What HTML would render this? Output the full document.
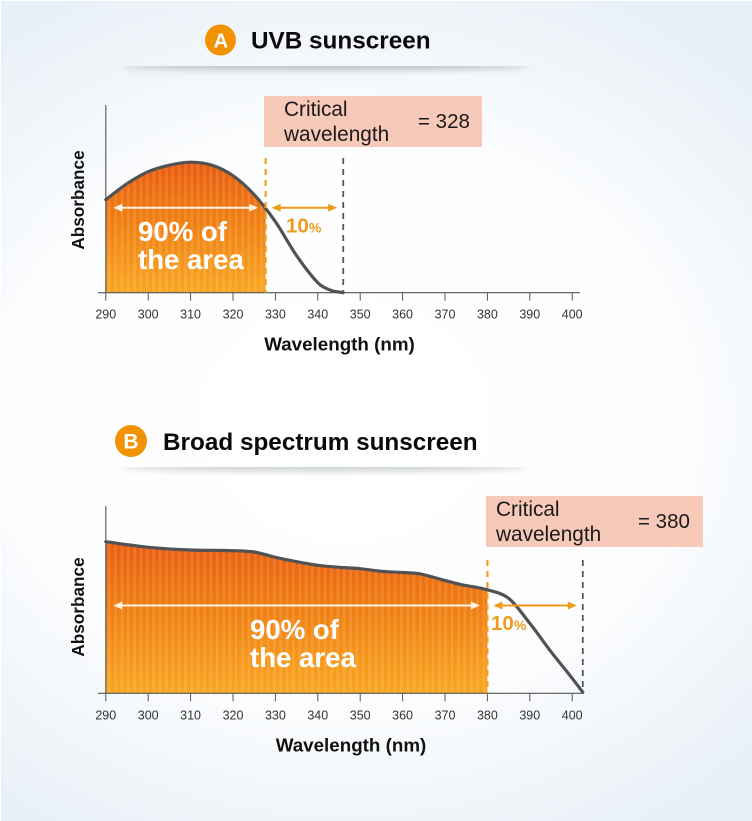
<!DOCTYPE html>
<html lang="en">
<head>
<meta charset="utf-8">
<title>Critical wavelength charts</title>
<style>
html,body{margin:0;padding:0;width:752px;height:821px;overflow:hidden;background:#fff}
svg{display:block;font-family:"Liberation Sans",sans-serif}
</style>
</head>
<body>
<svg id="fig" width="752" height="821" viewBox="0 0 752 821" xmlns="http://www.w3.org/2000/svg">
<defs>
<radialGradient id="bg" gradientUnits="userSpaceOnUse" cx="0" cy="0" r="1" gradientTransform="translate(345 420) scale(570 480)">
<stop offset="0" stop-color="#ffffff"/><stop offset="0.55" stop-color="#fdfeff"/><stop offset="0.8" stop-color="#f2f6fa"/><stop offset="1" stop-color="#e8f0f7"/>
</radialGradient>
<linearGradient id="fillA" gradientUnits="userSpaceOnUse" x1="0" y1="165" x2="0" y2="293">
<stop offset="0" stop-color="#e95d10"/><stop offset="0.45" stop-color="#f07f12"/><stop offset="1" stop-color="#f9a722"/>
</linearGradient>
<linearGradient id="fillB" gradientUnits="userSpaceOnUse" x1="0" y1="542" x2="0" y2="693">
<stop offset="0" stop-color="#e95d10"/><stop offset="0.45" stop-color="#f07f12"/><stop offset="1" stop-color="#f9a722"/>
</linearGradient>
<pattern id="stripes" patternUnits="userSpaceOnUse" width="6.35" height="10">
<rect x="0" y="0" width="2.6" height="10" fill="#ffffff" fill-opacity="0.12"/>
</pattern>
<filter id="soft" x="-20%" y="-300%" width="140%" height="700%"><feGaussianBlur stdDeviation="3.5"/></filter>
<clipPath id="shadowClipA"><rect x="80" y="66" width="500" height="20"/></clipPath>
<clipPath id="shadowClipB"><rect x="80" y="467" width="500" height="20"/></clipPath>
</defs>
<rect width="752" height="821" fill="url(#bg)"/>
<path d="M0.500 821V0.500H752" fill="none" stroke="#ffffff" stroke-width="1"/>

<g clip-path="url(#shadowClipA)">
<ellipse cx="325" cy="66" rx="205" ry="4" fill="#8f979e" fill-opacity="0.62" filter="url(#soft)"/>
</g>
<circle cx="220.500" cy="40" r="15.500" fill="#f39200"/>
<text x="220.800" y="47.500" font-size="20" font-weight="700" fill="#fff" text-anchor="middle">A</text>
<text x="251" y="48.500" font-size="24.300" font-weight="700" fill="#0a0a0a">UVB sunscreen</text>

<g clip-path="url(#shadowClipB)">
<ellipse cx="325" cy="467" rx="205" ry="4" fill="#8f979e" fill-opacity="0.5" filter="url(#soft)"/>
</g>
<circle cx="131" cy="441" r="16" fill="#f39200"/>
<text x="131" y="448.500" font-size="21" font-weight="700" fill="#fff" text-anchor="middle">B</text>
<text x="163" y="450" font-size="24.300" font-weight="700" fill="#0a0a0a">Broad spectrum sunscreen</text>

<g id="chartA"></g>
<g id="chartB"></g>

<text transform="translate(84,200) rotate(-90)" font-size="17.200" font-weight="700" fill="#111" text-anchor="middle">Absorbance</text>
<text x="339.500" y="350.500" font-size="18.800" font-weight="700" fill="#111" text-anchor="middle">Wavelength (nm)</text>
<text font-size="27.600" font-weight="700" fill="#fff"><tspan x="138" y="241">90% of</tspan><tspan x="138" y="269">the area</tspan></text>
<text x="286" y="232.500" font-size="20.500" font-weight="700" fill="#ee9a1c">10<tspan font-size="14">%</tspan></text>

<rect x="264" y="96" width="218" height="51" fill="#f7c9b8"/>
<text font-size="20.800" fill="#1a1a1a"><tspan x="284" y="116">Critical</tspan><tspan x="284" y="141">wavelength</tspan></text>
<text x="418" y="128" font-size="20.500" fill="#1a1a1a">= 328</text>

<text transform="translate(84,607) rotate(-90)" font-size="17.200" font-weight="700" fill="#111" text-anchor="middle">Absorbance</text>
<text x="351" y="751.500" font-size="18.800" font-weight="700" fill="#111" text-anchor="middle">Wavelength (nm)</text>
<text font-size="27.600" font-weight="700" fill="#fff"><tspan x="250" y="639">90% of</tspan><tspan x="250" y="667">the area</tspan></text>
<text x="491" y="630" font-size="20.500" font-weight="700" fill="#ee9a1c">10<tspan font-size="14">%</tspan></text>

<rect x="486" y="496" width="217" height="51" fill="#f7c9b8"/>
<text font-size="20.800" fill="#1a1a1a"><tspan x="496" y="516">Critical</tspan><tspan x="496" y="541">wavelength</tspan></text>
<text x="638" y="528" font-size="20.500" fill="#1a1a1a">= 380</text>
</svg>
<script>
// Shared axis ticks
const xTicks = [290, 300, 310, 320, 330, 340, 350, 360, 370, 380, 390, 400];

// Chart A: UVB sunscreen
const wavelengthsA = [290, 295, 300, 305, 310, 315, 320, 325, 330, 335, 340, 343, 346];
const absorbanceA = [93, 109, 121, 127.5, 130.5, 127.5, 117, 98, 71, 37, 10, 2.5, 0];
const criticalA = [327.7];
const endA = [346];

// Chart B: Broad spectrum sunscreen
const wavelengthsB = [290, 300, 310, 320, 325, 330, 335, 340, 345, 350, 355, 360, 364, 369, 373.5, 380, 385, 390, 395, 400, 402.5];
const absorbanceB = [151.6, 146, 143.3, 142.6, 141.3, 136, 131.6, 128, 126, 124.6, 122, 120.8, 119.5, 114, 109, 103.5, 95, 70, 41.6, 15, 1];
const criticalB = [380];
const endB = [402.5];

const NS = 'http://www.w3.org/2000/svg';
function el(parent, tag, attrs, text) {
  const n = document.createElementNS(NS, tag);
  for (const k in attrs) n.setAttribute(k, attrs[k]);
  if (text !== undefined) n.textContent = text;
  parent.appendChild(n);
  return n;
}
function xScale(w) { return 105.8 + (w - 290) * 4.24; }
function smoothPath(pts) {
  const n = pts.length;
  const slopes = pts.map((p, i) => {
    const a = pts[Math.max(i - 1, 0)], b = pts[Math.min(i + 1, n - 1)];
    return (b[1] - a[1]) / (b[0] - a[0]);
  });
  let d = 'M' + pts[0][0].toFixed(2) + ' ' + pts[0][1].toFixed(2);
  for (let i = 0; i < n - 1; i++) {
    const p1 = pts[i], p2 = pts[i + 1], h = (p2[0] - p1[0]) / 3;
    d += 'C' + (p1[0] + h).toFixed(2) + ' ' + (p1[1] + slopes[i] * h).toFixed(2) + ' ' + (p2[0] - h).toFixed(2) + ' ' + (p2[1] - slopes[i + 1] * h).toFixed(2) + ' ' + p2[0].toFixed(2) + ' ' + p2[1].toFixed(2);
  }
  return d;
}
function arrowLine(g, x1, x2, y, color, width) {
  const line = el(g, 'line', { x1: x1 + 4, x2: x2 - 4, y1: y, y2: y, stroke: color, 'stroke-width': width });
  
  
  const left = el(g, 'path', { d: 'M' + x1 + ' ' + y + 'l9 -4v8z', fill: color });
  
  
  const right = el(g, 'path', { d: 'M' + x2 + ' ' + y + 'l-9 -4v8z', fill: color });
  
  
}
function drawChart(id, waves, values, crit, end, baseY, topY, dashTop, arrowY, fillId, rightX) {
  const g = document.getElementById(id);
  const yScale = v => baseY - v;
  const pts = waves.map((w, i) => [xScale(w), yScale(values[i])]);
  const line = smoothPath(pts);
  const clipId = id + '-clip';
  const defs = el(g, 'defs', {});
  const clip = el(defs, 'clipPath', { id: clipId });
  el(clip, 'rect', { x: xScale(waves[0]), y: topY, width: xScale(crit) - xScale(waves[0]), height: baseY - topY });
  const area = line + 'L' + xScale(waves[waves.length - 1]).toFixed(2) + ' ' + baseY + 'L' + xScale(waves[0]).toFixed(2) + ' ' + baseY + 'Z';
  const fill = el(g, 'path', { d: area, fill: 'url(#' + fillId + ')', 'clip-path': 'url(#' + clipId + ')' });
  
  
  const stripes = el(g, 'path', { d: area, fill: 'url(#stripes)', 'clip-path': 'url(#' + clipId + ')' });
  
  

  const yAxis = el(g, 'line', { x1: 105.8, x2: 105.8, y1: topY, y2: baseY, stroke: '#555', 'stroke-width': 1.1 });
  
  
  const xAxis = el(g, 'line', { x1: 98, x2: rightX, y1: baseY, y2: baseY, stroke: '#555', 'stroke-width': 1.1 });
  
  
  xTicks.forEach(t => {
    const tick = el(g, 'line', { x1: xScale(t), x2: xScale(t), y1: baseY, y2: baseY + 8, stroke: '#555', 'stroke-width': 1 });
    
    
    const label = el(g, 'text', { x: xScale(t), y: baseY + 26, 'font-size': 12.5, fill: '#333', 'text-anchor': 'middle' }, String(t));
    
    
  });

  const curve = el(g, 'path', { d: line, fill: 'none', stroke: '#525254', 'stroke-width': 3.2, 'stroke-linecap': 'round' });
  
  

  const critLine = el(g, 'line', { x1: xScale(crit), x2: xScale(crit), y1: dashTop, y2: baseY, stroke: '#f0a020', 'stroke-width': 2.2, 'stroke-dasharray': '6 5' });
  
  
  const endLine = el(g, 'line', { x1: xScale(end), x2: xScale(end), y1: dashTop, y2: baseY, stroke: '#58585a', 'stroke-width': 1.8, 'stroke-dasharray': '6 5' });
  
  

  arrowLine(g, xScale(waves[0]) + 7.5, xScale(crit) - 7.5, arrowY, '#fff2e0', 2);
  arrowLine(g, xScale(crit) + 6, xScale(end) - 6, arrowY, '#ee9a1c', 2);
}
drawChart('chartA', wavelengthsA, absorbanceA, criticalA[0], endA[0], 292.7, 105, 158, 207.7, 'fillA', 580);
drawChart('chartB', wavelengthsB, absorbanceB, criticalB[0], endB[0], 693.3, 506, 560, 605.5, 'fillB', 584);
</script>
</body>
</html>
